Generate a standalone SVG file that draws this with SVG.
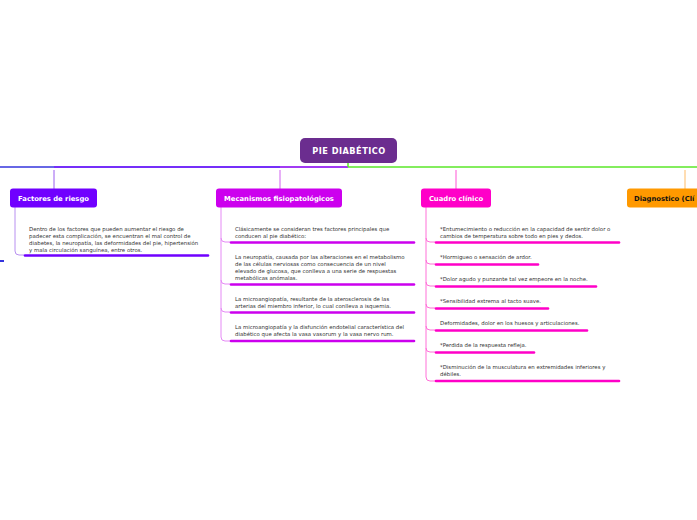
<svg xmlns="http://www.w3.org/2000/svg" width="697" height="520" viewBox="0 0 697 520">
<style>
.t{font-family:"DejaVu Sans",Verdana,sans-serif;font-size:5.4px;fill:#333}
.n{font-family:"DejaVu Sans",Verdana,sans-serif;font-size:6.8px;font-weight:bold;fill:#fff;text-anchor:middle}
.c{fill:none;stroke-width:1}
.u{stroke-width:2.6;stroke-linecap:round;fill:none}
</style>
<rect width="697" height="520" fill="#fff"/>
<g id="connectors">
<path d="M0 167 H348" stroke="#3535dd" stroke-width="1.5" fill="none"/>
<path d="M54 167 H348" stroke="#7a1cff" stroke-width="1.5" fill="none"/>
<path d="M280 167 H348" stroke="#b040f0" stroke-width="1.5" fill="none"/>
<path d="M348 167 H697 M348 163 V167" stroke="#5be82a" stroke-width="1.5" fill="none"/>
<path class="c" d="M54 170 V189" stroke="#9a5cf0"/>
<path class="c" d="M280 170 V189" stroke="#d060f0"/>
<path class="c" d="M456 170 V189" stroke="#ff55d5"/>
<path class="c" d="M685 170 V189" stroke="#ffbb66"/>
<rect x="0" y="260" width="4" height="2" fill="#3535dd"/>
<path class="c" d="M15 207 V251 Q15 255 19 255 H24" stroke="#b890f0"/>
<path class="c" d="M221 207 V337 Q221 341 225 341 H230 M221 238 Q221 242 225 242 H230 M221 280 Q221 284 225 284 H230 M221 308 Q221 312 225 312 H230" stroke="#e58af5"/>
<path class="c" d="M426 207 V377 Q426 381 430 381 H435 M426 238 Q426 242 430 242 H435 M426 260 Q426 264 430 264 H435 M426 282 Q426 286 430 286 H435 M426 304 Q426 308 430 308 H435 M426 326 Q426 330 430 330 H435 M426 348 Q426 352 430 352 H435" stroke="#ff70d8"/>
</g>
<g id="root">
<rect x="300" y="138" width="97" height="25" rx="5" fill="#6b2d8f"/>
<text x="349" y="153.5" class="n" style="font-size:8.2px;letter-spacing:0.5px">PIE DIABÉTICO</text>
</g>
<g id="factores">
<rect x="10" y="188.5" width="87" height="19" rx="3" fill="#7000ff"/>
<text x="53.5" y="200.5" class="n">Factores de riesgo</text>
</g>
<g id="factores-1">
<text class="t" x="29" y="230.5">Dentro de los factores que pueden aumentar el riesgo de</text>
<text class="t" x="29" y="237.5">padecer esta complicación, se encuentran el mal control de</text>
<text class="t" x="29" y="244.5">diabetes, la neuropatía, las deformidades del pie, hipertensión</text>
<text class="t" x="29" y="251.5">y mala circulación sanguínea, entre otros.</text>
<path class="u" d="M25 255.5 H208" stroke="#7000ff"/>
</g>
<g id="mecanismos">
<rect x="216" y="188.5" width="126" height="19" rx="3" fill="#cc00ee"/>
<text x="279" y="200.5" class="n">Mecanismos fisiopatológicos</text>
</g>
<g id="mec-1">
<text class="t" x="235" y="231">Clásicamente se consideran tres factores principales que</text>
<text class="t" x="235" y="238">conducen al pie diabético:</text>
<path class="u" d="M231 242.5 H414" stroke="#cc00ee"/>
</g>
<g id="mec-2">
<text class="t" x="235" y="259">La neuropatía, causada por las alteraciones en el metabolismo</text>
<text class="t" x="235" y="266">de las células nerviosas como consecuencia de un  nivel</text>
<text class="t" x="235" y="273">elevado de glucosa, que conlleva a una serie de respuestas</text>
<text class="t" x="235" y="280">metabólicas anómalas.</text>
<path class="u" d="M231 284.5 H414" stroke="#cc00ee"/>
</g>
<g id="mec-3">
<text class="t" x="235" y="301">La microangiopatía, resultante de la aterosclerosis de las</text>
<text class="t" x="235" y="308">arterias del miembro inferior, lo cual conlleva a isquemia.</text>
<path class="u" d="M231 312.5 H414" stroke="#cc00ee"/>
</g>
<g id="mec-4">
<text class="t" x="235" y="329">La microangiopatía y la disfunción endotelial característica del</text>
<text class="t" x="235" y="336">diabético que afecta la vasa vasorum y la vasa nervo rum.</text>
<path class="u" d="M231 341 H414" stroke="#cc00ee"/>
</g>
<g id="cuadro">
<rect x="421" y="188.5" width="70" height="19" rx="3" fill="#ff00c8"/>
<text x="456" y="200.5" class="n">Cuadro clínico</text>
</g>
<g id="cuadro-1">
<text class="t" x="440" y="231">*Entumecimiento o reducción en la capacidad de sentir dolor o</text>
<text class="t" x="440" y="238">cambios de temperatura sobre todo en pies y dedos.</text>
<path class="u" d="M436 242.5 H619" stroke="#ff00c8"/>
</g>
<g id="cuadro-2">
<text class="t" x="440" y="259">*Hormigueo o sensación de ardor.</text>
<path class="u" d="M436 264.5 H538" stroke="#ff00c8"/>
</g>
<g id="cuadro-3">
<text class="t" x="440" y="281">*Dolor agudo y punzante tal vez empeore en la noche.</text>
<path class="u" d="M436 286.5 H596" stroke="#ff00c8"/>
</g>
<g id="cuadro-4">
<text class="t" x="440" y="303">*Sensibilidad extrema al tacto suave.</text>
<path class="u" d="M436 308.5 H548" stroke="#ff00c8"/>
</g>
<g id="cuadro-5">
<text class="t" x="440" y="325">Deformidades, dolor en los huesos y articulaciones.</text>
<path class="u" d="M436 330.5 H587" stroke="#ff00c8"/>
</g>
<g id="cuadro-6">
<text class="t" x="440" y="347">*Perdida de la respuesta refleja.</text>
<path class="u" d="M436 352.5 H534" stroke="#ff00c8"/>
</g>
<g id="cuadro-7">
<text class="t" x="440" y="369">*Disminución de la musculatura en extremidades inferiores y</text>
<text class="t" x="440" y="376">débiles.</text>
<path class="u" d="M436 381 H619" stroke="#ff00c8"/>
</g>
<g id="diagnostico">
<rect x="627" y="188.5" width="75" height="19" rx="3" fill="#ff9900"/>
<text x="634" y="200.5" class="n" style="text-anchor:start;fill:#111">Diagnostico (Clí</text>
</g>
</svg>
